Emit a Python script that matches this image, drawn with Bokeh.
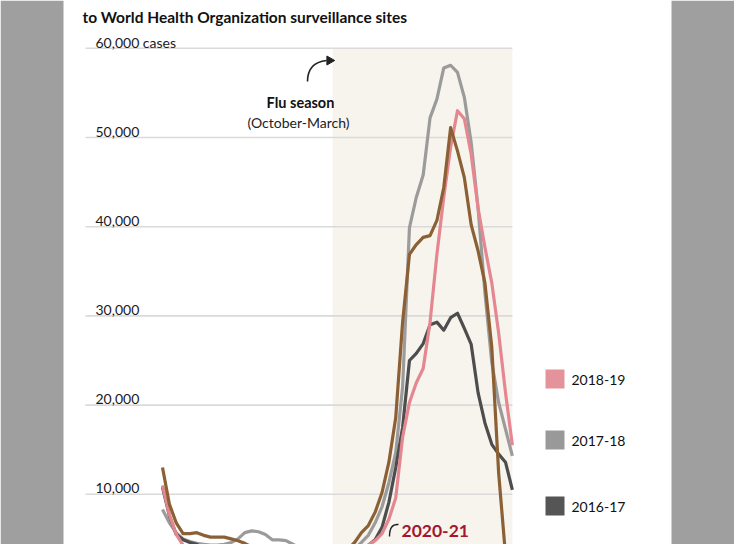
import numpy as np
from bokeh.plotting import figure
from bokeh.models import Range1d, Label, BoxAnnotation
from bokeh.embed import file_html
from bokeh.resources import INLINE

# ---------------- data (weekly, April -> March) ----------------
weeks = list(range(52))

cases_2016_17 = [10800, 7600, 5500, 4900, 4600, 4400, 3900, 3500, 3200, 3000,
                 2900, 2800, 2700, 2600, 2600, 2500, 2500, 2500, 2500, 2600,
                 2600, 2700, 2800, 2900, 3000, 3100, 3200, 3300, 3300, 3700,
                 4300, 4900, 6300, 9100, 13000, 17500, 25000, 25800, 26900, 29000,
                 29300, 28400, 29800, 30300, 28600, 26800, 21400, 18000, 15600, 14500,
                 13600, 10500]

cases_2017_18 = [8300, 6800, 5700, 5000, 4700, 4500, 4400, 4300, 4300, 4400,
                 4600, 5000, 5700, 5900, 5800, 5500, 4900, 4900, 4800, 4400,
                 4000, 4000, 3700, 3200, 3000, 2900, 3000, 3300, 3900, 4600,
                 5400, 6800, 8600, 11300, 14700, 22000, 39900, 43300, 45800, 52200,
                 54300, 57800, 58100, 57300, 54500, 49400, 42100, 32600, 24800, 20300,
                 17300, 14300]

cases_2018_19 = [11000, 7700, 5500, 4300, 3300, 2900, 2700, 2500, 2400, 2300,
                 2300, 2200, 2200, 2100, 2100, 2000, 2000, 2000, 2000, 2100,
                 2100, 2200, 2300, 2400, 2500, 2600, 2800, 3000, 3200, 3500,
                 4300, 4800, 5600, 7200, 9600, 16400, 20300, 22500, 24100, 29300,
                 36900, 43300, 48900, 53000, 52100, 48100, 42100, 37700, 33700, 28100,
                 21400, 15500]

cases_2019_20 = [13000, 8900, 6800, 5600, 5600, 5700, 5400, 5200, 5200, 5200,
                 5000, 4800, 4500, 4100, 3700, 3300, 3100, 3000, 2900, 2900,
                 2800, 2800, 2900, 3000, 3100, 3300, 3500, 3800, 4600, 5700,
                 6500, 8000, 10200, 13600, 18600, 29300, 36900, 38000, 38800, 39000,
                 40700, 44400, 51100, 48500, 45500, 40200, 37300, 33700, 26500, 12400,
                 3200, 1200]

cases_2020_21 = [900, 600, 450, 350, 300, 250, 220, 200, 200, 180,
                 180, 170, 170, 160, 160, 150, 150, 150, 160, 160,
                 170, 180, 190, 200, 210, 220, 230, 240, 250, 260,
                 270, 280, 290, 300, 310, 320, 330, 340, 350, 360,
                 370, 380]

y_ticks = [10000, 20000, 30000, 40000, 50000, 60000]
y_tick_labels = ["10,000", "20,000", "30,000", "40,000", "50,000", "60,000 cases"]
flu_season = (24.8, 51.0)          # October-March, in weeks from the start

legend_labels = ["2018-19", "2017-18", "2016-17"]

# ---------------- layout (pixels) ----------------
W, H = 734, 544
OFF = 8                     # page margin
WEEK0_PX = 170 - OFF        # pixel of first week
WEEK_PX = 6.86              # pixels per week
ZERO_PX = 591 - OFF         # pixel row of 0 cases
PX_PER_CASE = 89.2 / 10000
FONT = "Lato"


def dx(px):     # reference pixel column -> data x
    return (px - OFF - WEEK0_PX) / WEEK_PX


def dy(py):     # reference pixel row -> data y
    return (ZERO_PX - (py - OFF)) / PX_PER_CASE


def sx(px):     # reference pixel column -> screen x in figure
    return px - OFF


def sy(py):     # reference pixel row -> screen y (from bottom)
    return H - (py - OFF)


p = figure(width=W, height=H, output_backend="svg", toolbar_location=None,
           x_range=Range1d(dx(OFF), dx(OFF + W)),
           y_range=Range1d(dy(OFF + H), dy(OFF)),
           x_axis_location=None, y_axis_location=None, min_border=0,
           outline_line_color=None, background_fill_color="white",
           border_fill_color="white")
p.grid.visible = False

# glitter side panels
for l, r in [(0, 63), (671, W)]:
    p.add_layout(BoxAnnotation(left=l, right=r, left_units="screen", right_units="screen",
                               fill_color="#9f9f9f", fill_alpha=1.0, line_color=None,
                               level="underlay"))

# flu season shading
p.add_layout(BoxAnnotation(left=flu_season[0], right=flu_season[1], top=60000,
                           fill_color="#f7f4ee", fill_alpha=1.0, line_color=None,
                           level="underlay"))

# gridlines
p.segment(x0=[dx(93)] * len(y_ticks), x1=[flu_season[1]] * len(y_ticks),
          y0=y_ticks, y1=y_ticks, line_color="#dadada", line_width=1.6)

# tick labels
for t, lab in zip(y_ticks, y_tick_labels):
    p.add_layout(Label(x=sx(103), x_units="screen", y=t, y_units="data", y_offset=6,
                       text=lab, text_font=FONT, text_font_size="14px",
                       text_color="#1a1a1a", text_baseline="alphabetic"))

# series lines
lw = 3.2
p.line(weeks, cases_2017_18, line_color="#9b9b9b", line_width=lw, line_join="round")
p.line(weeks, cases_2016_17, line_color="#4d4d4d", line_width=lw, line_join="round")
p.line(weeks, cases_2018_19, line_color="#e48790", line_width=lw, line_join="round")
p.line(weeks, cases_2019_20, line_color="#8b6035", line_width=lw, line_join="round")
p.line(weeks[:len(cases_2020_21)], cases_2020_21, line_color="#a3172c", line_width=lw,
       line_join="round")

# title (second line visible)
p.add_layout(Label(x=sx(90), x_units="screen", y=sy(24), y_units="screen",
                   text="to World Health Organization surveillance sites",
                   text_font=FONT, text_font_style="bold",
                   text_font_size="15.5px", text_color="#111111",
                   text_baseline="alphabetic"))

# flu season annotation
p.quadratic(x0=[dx(315)], y0=[dy(89)], x1=[dx(334)], y1=[dy(68)],
            cx=[dx(315)], cy=[dy(70)], line_color="#222222", line_width=1.6)
p.scatter(x=[dx(337)], y=[dy(68)], marker="triangle", size=9, angle=-np.pi / 2,
          fill_color="#222222", line_color="#222222")
p.add_layout(Label(x=sx(308), x_units="screen", y=sy(110), y_units="screen",
                   text="Flu season", text_font=FONT,
                   text_font_style="bold", text_font_size="14.5px", text_color="#111111",
                   text_align="center", text_baseline="alphabetic"))
p.add_layout(Label(x=sx(306), x_units="screen", y=sy(130), y_units="screen",
                   text="(October-March)", text_font=FONT,
                   text_font_size="14px", text_color="#222222",
                   text_align="center", text_baseline="alphabetic"))

# 2020-21 label with leader
p.quadratic(x0=[dx(406)], y0=[dy(532)], x1=[dx(397)], y1=[dy(544)],
            cx=[dx(397)], cy=[dy(531)], line_color="#222222", line_width=1.4)
p.add_layout(Label(x=sx(409), x_units="screen", y=sy(538), y_units="screen",
                   text="2020-21", text_font=FONT, text_font_style="bold",
                   text_font_size="17.5px", text_color="#a3172c",
                   text_baseline="alphabetic"))

# legend: square swatches + labels
swatch_colors = ["#e5939b", "#999999", "#555555"]
swatch_tops = [377, 438, 504]
SW = 19
p.quad(left=[dx(553)] * 3, right=[dx(553 + SW)] * 3,
       top=[dy(t) for t in swatch_tops], bottom=[dy(t + SW) for t in swatch_tops],
       fill_color=swatch_colors, line_color=None)
for lab, t in zip(legend_labels, swatch_tops):
    p.add_layout(Label(x=sx(579), x_units="screen", y=sy(t + SW / 2 + 1), y_units="screen",
                       text=lab, text_font=FONT, text_font_size="14px",
                       text_color="#111111", text_baseline="middle"))

open("out.html", "w").write(file_html(p, INLINE))
